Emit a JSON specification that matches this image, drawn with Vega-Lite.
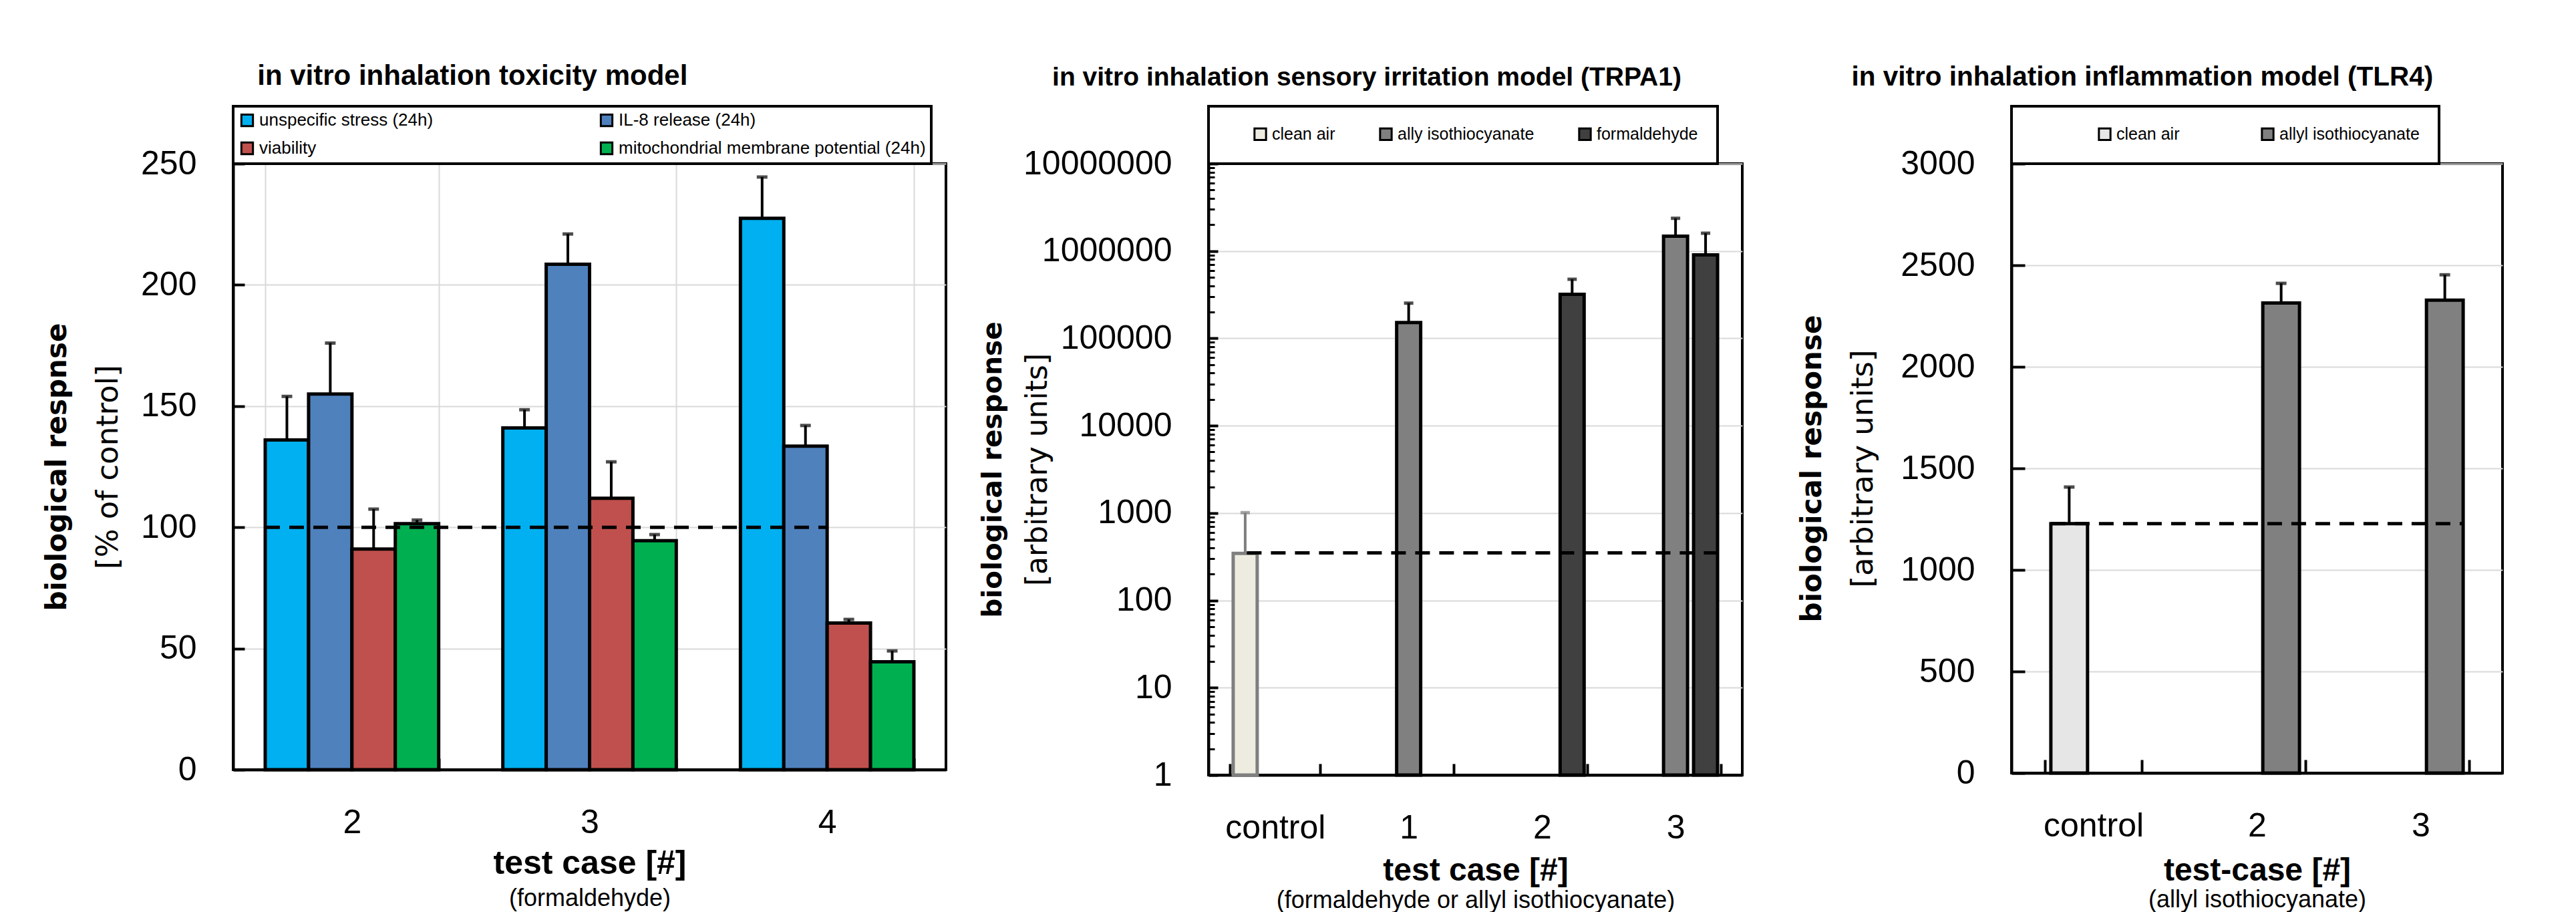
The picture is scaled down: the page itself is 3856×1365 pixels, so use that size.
{
  "$schema": "https://vega.github.io/schema/vega-lite/v6.json",
  "background": "white",
  "padding": {"left": 62, "top": 93, "right": 0, "bottom": 0},
  "spacing": 46,
  "resolve": {"scale": {"color": "independent", "xOffset": "independent", "x": "independent", "y": "independent"}, "legend": {"color": "independent"}},
  "datasets": {
    "tox": [
      {"case": "2", "measure": "unspecific stress (24h)", "value": 136, "upper": 154},
      {"case": "2", "measure": "IL-8 release (24h)", "value": 155, "upper": 176},
      {"case": "2", "measure": "viability", "value": 91, "upper": 107.5},
      {"case": "2", "measure": "mitochondrial membrane potential (24h)", "value": 101.5, "upper": 103},
      {"case": "3", "measure": "unspecific stress (24h)", "value": 141, "upper": 148.5},
      {"case": "3", "measure": "IL-8 release (24h)", "value": 208.5, "upper": 221},
      {"case": "3", "measure": "viability", "value": 112, "upper": 127},
      {"case": "3", "measure": "mitochondrial membrane potential (24h)", "value": 94.5, "upper": 97},
      {"case": "4", "measure": "unspecific stress (24h)", "value": 227.5, "upper": 244.5},
      {"case": "4", "measure": "IL-8 release (24h)", "value": 133.5, "upper": 142},
      {"case": "4", "measure": "viability", "value": 60.5, "upper": 62},
      {"case": "4", "measure": "mitochondrial membrane potential (24h)", "value": 44.5, "upper": 49}
    ],
    "tox_ref": [{"from": "2", "to": "4", "level": 100}],
    "trpa": [
      {"case": "control", "exposure": "clean air", "value": 345, "upper": 1010},
      {"case": "1", "exposure": "ally isothiocyanate", "value": 152000, "upper": 253000},
      {"case": "2", "exposure": "formaldehyde", "value": 319000, "upper": 475000},
      {"case": "3", "exposure": "ally isothiocyanate", "value": 1480000, "upper": 2370000},
      {"case": "3", "exposure": "formaldehyde", "value": 905000, "upper": 1600000}
    ],
    "trpa_ref": [{"from": "control", "to": "3", "level": 350}],
    "tlr": [
      {"case": "control", "exposure": "clean air", "value": 1228, "upper": 1408},
      {"case": "2", "exposure": "allyl isothiocyanate", "value": 2314, "upper": 2411},
      {"case": "3", "exposure": "allyl isothiocyanate", "value": 2328, "upper": 2453}
    ],
    "tlr_ref": [{"from": "control", "to": "3", "level": 1228}]
  },
  "hconcat": [
    {
      "title": {"text": "in vitro inhalation toxicity model", "dx": -33, "offset": 19, "fontSize": 42},
      "resolve": {"scale": {"color": "independent", "xOffset": "independent"}, "legend": {"color": "independent"}},
      "vconcat": [
        {
          "width": 1067,
          "height": 907,
          "resolve": {"axis": {"x": "independent", "y": "independent"}},
          "layer": [
            {
              "data": {"name": "tox"},
              "mark": {"type": "bar", "stroke": "black", "strokeWidth": 5},
              "encoding": {
                "x": {"field": "case", "type": "nominal",
                  "scale": {"domain": ["2", "3", "4"], "paddingInner": 0.27, "paddingOuter": 0.135},
                  "axis": {"title": "test case [#]", "titleFont": "Liberation Sans", "titleFontWeight": "bold", "titleFontSize": 50, "titlePadding": 11,
                    "labelAngle": 0, "labelPadding": 71, "tickSize": -17, "tickBand": "extent", "grid": true}},
                "xOffset": {"field": "measure", "type": "nominal",
                  "scale": {"domain": ["unspecific stress (24h)", "IL-8 release (24h)", "viability", "mitochondrial membrane potential (24h)"], "paddingInner": 0, "paddingOuter": 0}},
                "y": {"field": "value", "type": "quantitative", "scale": {"domain": [0, 250], "nice": false},
                  "axis": {"values": [0, 50, 100, 150, 200, 250], "title": "biological respnse", "titleFont": "DejaVu Sans", "titleFontWeight": "bold", "titleFontSize": 42, "titlePadding": 103,
                    "tickSize": -17, "labelPadding": 72, "grid": true}},
                "color": {"field": "measure", "type": "nominal",
                  "scale": {"domain": ["unspecific stress (24h)", "IL-8 release (24h)", "viability", "mitochondrial membrane potential (24h)"], "range": ["#00b0f0", "#4f81bd", "#c0504d", "#00b050"]},
                  "legend": {"orient": "top", "direction": "horizontal", "columns": 2, "title": null, "labelFontSize": 26, "padding": 8, "rowPadding": 12, "columnPadding": 244, "offset": 0}}
              }
            },
            {
              "data": {"name": "tox"},
              "mark": {"type": "rule", "color": "black", "strokeWidth": 4},
              "encoding": {
                "x": {"field": "case", "type": "nominal", "axis": null},
                "xOffset": {"field": "measure", "type": "nominal"},
                "y": {"field": "value", "type": "quantitative", "axis": null},
                "y2": {"field": "upper"}
              }
            },
            {
              "data": {"name": "tox"},
              "mark": {"type": "tick", "color": "black", "thickness": 5, "size": 16},
              "encoding": {
                "x": {"field": "case", "type": "nominal", "axis": null},
                "xOffset": {"field": "measure", "type": "nominal"},
                "y": {"field": "upper", "type": "quantitative", "axis": null}
              }
            },
            {
              "data": {"name": "tox_ref"},
              "mark": {"type": "rule", "color": "black", "strokeWidth": 5, "strokeDash": [22, 14]},
              "encoding": {
                "x": {"field": "from", "type": "nominal", "bandPosition": 0,
                  "axis": {"orient": "bottom", "labels": false, "ticks": false, "domain": false, "grid": false, "title": "(formaldehyde)", "titleFont": "Liberation Sans", "titleFontWeight": "normal", "titleFontSize": 36, "titlePadding": 175}},
                "x2": {"field": "to", "bandPosition": 0.5},
                "y": {"field": "level", "type": "quantitative",
                  "axis": {"orient": "left", "labels": false, "ticks": false, "domain": false, "grid": false, "title": "[% of control]", "titleFont": "DejaVu Sans", "titleFontWeight": "normal", "titleFontSize": 45, "titlePadding": 165}}
              }
            }
          ]
        }
      ]
    },
    {
      "spacing": 79,
      "resolve": {"scale": {"color": "independent", "xOffset": "independent", "x": "independent", "y": "independent"}, "legend": {"color": "independent"}},
      "hconcat": [
        {
          "title": {"text": "in vitro inhalation sensory irritation model (TRPA1)", "dx": 9, "offset": 19, "fontSize": 39},
          "resolve": {"scale": {"color": "independent", "xOffset": "independent"}, "legend": {"color": "independent"}},
          "vconcat": [
            {
              "width": 799,
              "height": 915,
              "resolve": {"axis": {"x": "independent", "y": "independent"}},
              "layer": [
                {
                  "data": {"name": "trpa"},
                  "mark": {"type": "bar", "strokeWidth": 5},
                  "encoding": {
                    "x": {"field": "case", "type": "nominal",
                      "scale": {"domain": ["control", "1", "2", "3"], "paddingInner": 0.325, "paddingOuter": 0.1625},
                      "axis": {"title": "test case [#]", "titleFont": "Liberation Sans", "titleFontWeight": "bold", "titleFontSize": 48, "titlePadding": 15,
                        "labelAngle": 0, "labelPadding": 71, "tickSize": -17, "tickBand": "extent", "grid": false}},
                    "xOffset": {"field": "exposure", "type": "nominal",
                      "scale": {"domain": ["clean air", "ally isothiocyanate", "formaldehyde"], "paddingInner": 0.2, "paddingOuter": 0.1}},
                    "y": {"field": "value", "type": "quantitative", "scale": {"type": "log", "domain": [1, 10000000]},
                      "axis": {"values": [1, 10, 100, 1000, 10000, 100000, 1000000, 10000000], "format": "d", "title": "biological response", "titleFont": "DejaVu Sans", "titleFontWeight": "bold", "titleFontSize": 40.5, "titlePadding": 102,
                        "tickSize": -14, "labelPadding": 69, "grid": true}},
                    "y2": {"datum": 1},
                    "color": {"field": "exposure", "type": "nominal",
                      "scale": {"domain": ["clean air", "ally isothiocyanate", "formaldehyde"], "range": ["#eeece1", "#808080", "#404040"]},
                      "legend": {"orient": "top", "direction": "horizontal", "title": " ", "titleOrient": "left", "titleFontSize": 1, "titlePadding": 36, "labelFontSize": 25, "padding": 29, "columnPadding": 60, "offset": 0}},
                    "stroke": {"condition": {"test": "datum.exposure === 'clean air'", "value": "#7f7f7f"}, "value": "black"}
                  }
                },
                {
                  "data": {"name": "trpa"},
                  "mark": {"type": "rule", "strokeWidth": 4},
                  "encoding": {
                    "x": {"field": "case", "type": "nominal", "axis": null},
                    "xOffset": {"field": "exposure", "type": "nominal"},
                    "y": {"field": "value", "type": "quantitative", "scale": {"type": "log", "domain": [1, 10000000]}, "axis": null},
                    "y2": {"field": "upper"},
                    "color": {"condition": {"test": "datum.exposure === 'clean air'", "value": "#7f7f7f"}, "value": "black"}
                  }
                },
                {
                  "data": {"name": "trpa"},
                  "mark": {"type": "tick", "thickness": 5, "size": 14},
                  "encoding": {
                    "x": {"field": "case", "type": "nominal", "axis": null},
                    "xOffset": {"field": "exposure", "type": "nominal"},
                    "y": {"field": "upper", "type": "quantitative", "scale": {"type": "log", "domain": [1, 10000000]}, "axis": null},
                    "color": {"condition": {"test": "datum.exposure === 'clean air'", "value": "#7f7f7f"}, "value": "black"}
                  }
                },
                {
                  "data": {"name": "trpa_ref"},
                  "mark": {"type": "rule", "color": "black", "strokeWidth": 5, "strokeDash": [22, 14]},
                  "encoding": {
                    "x": {"field": "from", "type": "nominal", "bandPosition": 0.185,
                      "axis": {"orient": "bottom", "labels": false, "ticks": false, "domain": false, "grid": false, "title": "(formaldehyde or allyl isothiocyanate)", "titleFont": "Liberation Sans", "titleFontWeight": "normal", "titleFontSize": 36, "titlePadding": 170}},
                    "x2": {"field": "to", "bandPosition": 1},
                    "y": {"field": "level", "type": "quantitative", "scale": {"type": "log", "domain": [1, 10000000]},
                      "axis": {"orient": "left", "labels": false, "ticks": true, "tickSize": -9, "tickWidth": 3, "domain": false, "grid": false,
                        "values": [2,3,4,5,6,7,8,9,20,30,40,50,60,70,80,90,200,300,400,500,600,700,800,900,2000,3000,4000,5000,6000,7000,8000,9000,20000,30000,40000,50000,60000,70000,80000,90000,200000,300000,400000,500000,600000,700000,800000,900000,2000000,3000000,4000000,5000000,6000000,7000000,8000000,9000000],
                        "title": "[arbitrary units]", "titleFont": "DejaVu Sans", "titleFontWeight": "normal", "titleFontSize": 44, "titlePadding": 232}}
                  }
                }
              ]
            }
          ]
        },
        {
          "title": {"text": "in vitro inhalation inflammation model (TLR4)", "dx": -12, "offset": 19, "fontSize": 40.5},
          "resolve": {"scale": {"color": "independent", "xOffset": "independent"}, "legend": {"color": "independent"}},
          "vconcat": [
            {
              "width": 735,
              "height": 912,
              "resolve": {"axis": {"x": "independent", "y": "independent"}},
              "layer": [
                {
                  "data": {"name": "tlr"},
                  "mark": {"type": "bar", "stroke": "black", "strokeWidth": 5},
                  "encoding": {
                    "x": {"field": "case", "type": "nominal",
                      "scale": {"domain": ["control", "2", "3"], "paddingInner": 0.41, "paddingOuter": 0.205},
                      "axis": {"title": "test-case [#]", "titleFont": "Liberation Sans", "titleFontWeight": "bold", "titleFontSize": 48, "titlePadding": 18,
                        "labelAngle": 0, "labelPadding": 74, "tickSize": -20, "tickBand": "extent", "grid": false}},
                    "xOffset": {"field": "exposure", "type": "nominal",
                      "scale": {"domain": ["clean air", "allyl isothiocyanate"], "paddingInner": 0.24, "paddingOuter": 0.12}},
                    "y": {"field": "value", "type": "quantitative", "scale": {"domain": [0, 3000], "nice": false},
                      "axis": {"values": [0, 500, 1000, 1500, 2000, 2500, 3000], "format": "d", "title": "biological response", "titleFont": "DejaVu Sans", "titleFontWeight": "bold", "titleFontSize": 42, "titlePadding": 110,
                        "tickSize": -20, "labelPadding": 75, "grid": true}},
                    "color": {"field": "exposure", "type": "nominal",
                      "scale": {"domain": ["clean air", "allyl isothiocyanate"], "range": ["#e6e6e6", "#808080"]},
                      "legend": {"orient": "top", "direction": "horizontal", "title": " ", "titleOrient": "left", "titleFontSize": 1, "titlePadding": 98, "labelFontSize": 25, "padding": 29, "columnPadding": 116, "offset": 0}}
                  }
                },
                {
                  "data": {"name": "tlr"},
                  "mark": {"type": "rule", "color": "black", "strokeWidth": 4},
                  "encoding": {
                    "x": {"field": "case", "type": "nominal", "axis": null},
                    "xOffset": {"field": "exposure", "type": "nominal"},
                    "y": {"field": "value", "type": "quantitative", "axis": null},
                    "y2": {"field": "upper"}
                  }
                },
                {
                  "data": {"name": "tlr"},
                  "mark": {"type": "tick", "color": "black", "thickness": 5, "size": 16},
                  "encoding": {
                    "x": {"field": "case", "type": "nominal", "axis": null},
                    "xOffset": {"field": "exposure", "type": "nominal"},
                    "y": {"field": "upper", "type": "quantitative", "axis": null}
                  }
                },
                {
                  "data": {"name": "tlr_ref"},
                  "mark": {"type": "rule", "color": "black", "strokeWidth": 5, "strokeDash": [22, 14]},
                  "encoding": {
                    "x": {"field": "from", "type": "nominal", "bandPosition": 0.06,
                      "axis": {"orient": "bottom", "labels": false, "ticks": false, "domain": false, "grid": false, "title": "(allyl isothiocyanate)", "titleFont": "Liberation Sans", "titleFontWeight": "normal", "titleFontSize": 36, "titlePadding": 172}},
                    "x2": {"field": "to", "bandPosition": 0.93},
                    "y": {"field": "level", "type": "quantitative",
                      "axis": {"orient": "left", "labels": false, "ticks": false, "domain": false, "grid": false, "title": "[arbitrary units]", "titleFont": "DejaVu Sans", "titleFontWeight": "normal", "titleFontSize": 45, "titlePadding": 200}}
                  }
                }
              ]
            }
          ]
        }
      ]
    }
  ],
  "config": {
    "view": {"stroke": "black", "strokeWidth": 4},
    "axis": {"labelFont": "Liberation Sans", "labelFontSize": 50, "labelColor": "black", "labelLimit": 0, "domainColor": "black", "domainWidth": 4,
      "tickColor": "black", "tickWidth": 4, "gridColor": "#d9d9d9", "gridWidth": 2, "titleColor": "black"},
    "legend": {"labelFont": "Liberation Sans", "labelFontSize": 27, "labelColor": "black", "labelLimit": 0, "labelOffset": 5,
      "symbolType": "square", "symbolSize": 300, "symbolStrokeColor": "black", "symbolStrokeWidth": 3,
      "strokeColor": "black", "fillColor": "white", "strokeWidth": 4},
    "title": {"font": "Liberation Sans", "fontWeight": "bold", "fontSize": 40, "color": "black", "anchor": "middle", "frame": "bounds"}
  }
}
